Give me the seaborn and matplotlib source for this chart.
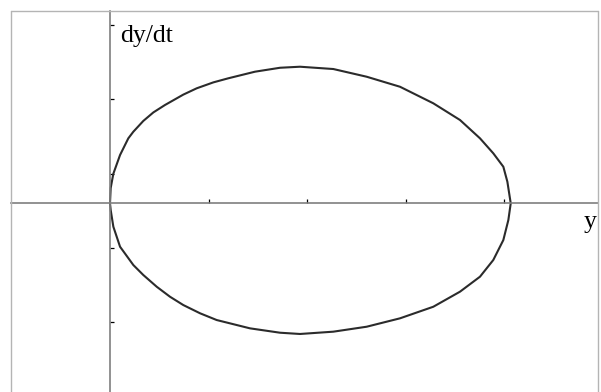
import numpy as np
import pandas as pd
import matplotlib
matplotlib.use("Agg")
import matplotlib.pyplot as plt
from matplotlib.lines import Line2D
import seaborn as sns

# Phase-plane trajectory: y against dy/dt (one closed orbit)
y_vals = [0.0, 0.007, 0.034, 0.102, 0.186, 0.237, 0.338, 0.440, 0.558,
          0.744, 0.880, 1.049, 1.201,
          1.472, 1.726, 1.929, 2.267, 2.606, 2.944, 3.282, 3.553, 3.756, 3.891,
          3.993, 4.034, 4.068,
          4.044, 3.993, 3.891, 3.756, 3.553, 3.282, 2.944, 2.606, 2.267, 1.929,
          1.726, 1.421, 1.083, 0.914, 0.744, 0.609, 0.474, 0.338, 0.237, 0.102,
          0.034, 0.007, 0.0]
dydt_vals = [0.0, 0.206, 0.399, 0.651, 0.876, 0.965, 1.110, 1.225, 1.325,
             1.465, 1.550, 1.630, 1.685,
             1.774, 1.827, 1.841, 1.810, 1.706, 1.571, 1.348, 1.123, 0.876, 0.674,
             0.493, 0.291, 0.0,
             -0.225, -0.495, -0.764, -0.989, -1.191, -1.394, -1.550, -1.663, -1.730, -1.761,
             -1.744, -1.685, -1.573, -1.482, -1.371, -1.259, -1.124, -0.966, -0.832, -0.585,
             -0.315, -0.090, 0.0]

x_ticks = [1, 2, 3, 4]
y_ticks = [2.4, 1.4, 0.4, -0.6, -1.6]
x_label = "y"
y_label = "dy/dt"

df = pd.DataFrame({"y": y_vals, "dydt": dydt_vals})

sns.set_style("white")
plt.rcParams["font.family"] = ["Liberation Serif", "DejaVu Serif"]

W, H = 601, 392
fig = plt.figure(figsize=(W / 100, H / 100), dpi=100)
fig.patch.set_facecolor("white")

# plotting area in pixels: left 11, right 598, top 11, extends past bottom edge
ax = fig.add_axes([11 / W, 0, 587 / W, 381 / H])
ax.set_facecolor("white")

sns.lineplot(data=df, x="y", y="dydt", sort=False, estimator=None,
             color="#2b2b2b", linewidth=1.5, ax=ax)
for ln in ax.lines:
    ln.set_solid_joinstyle("round")

ax.set_xlim(-1.005, 4.954)
ax.set_ylim(-2.543, 2.592)

# axes crossing at the origin
for side in ("top", "right"):
    ax.spines[side].set_visible(False)
ax.spines["left"].set_position(("data", 0))
ax.spines["bottom"].set_position(("data", 0))
for side in ("left", "bottom"):
    ax.spines[side].set_color("#7f7f7f")
    ax.spines[side].set_linewidth(1.2)

ax.set_xticks(x_ticks)
ax.set_yticks(y_ticks)
ax.set_xticklabels([])
ax.set_yticklabels([])
ax.tick_params(axis="both", which="major", bottom=True, left=True,
               direction="in", length=3, width=0.9, color="black")
ax.set_xlabel("")
ax.set_ylabel("")

# outer frame (left, top, right)
frame_kw = dict(color="#b4b4b4", linewidth=1.0, transform=fig.transFigure)
fig.add_artist(Line2D([11 / W, 11 / W], [0, 1 - 11 / H], **frame_kw))
fig.add_artist(Line2D([11 / W, 598 / W], [1 - 11 / H, 1 - 11 / H], **frame_kw))
fig.add_artist(Line2D([598 / W, 598 / W], [0, 1 - 11 / H], **frame_kw))

fig.text(120 / W, 1 - 42 / H, y_label, fontsize=18.5, color="black",
         ha="left", va="baseline")
fig.text(590 / W, 1 - 228 / H, x_label, fontsize=18.5, color="black",
         ha="center", va="baseline")

fig.savefig("out.png", dpi=100, facecolor="white")
